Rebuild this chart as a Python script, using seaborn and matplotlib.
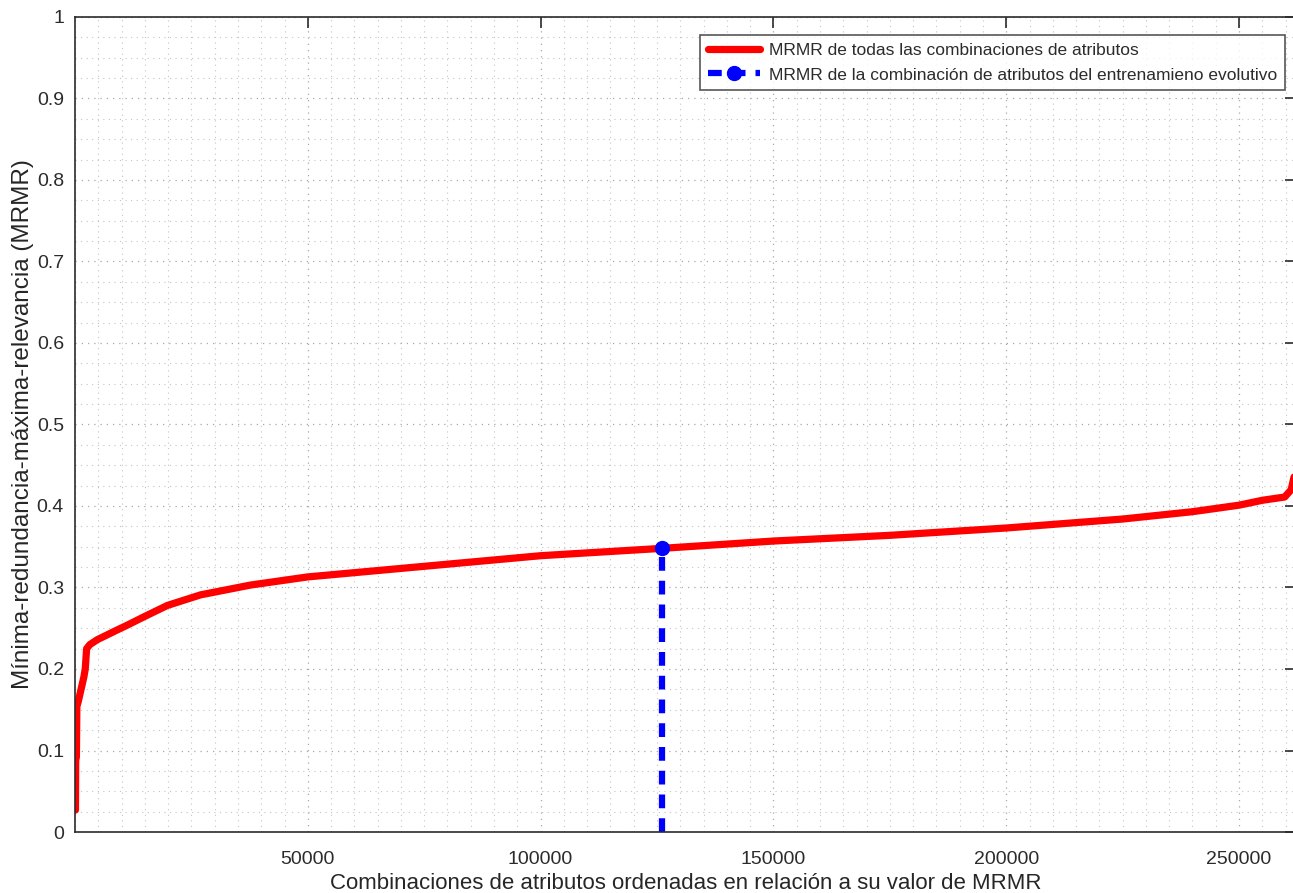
import matplotlib
matplotlib.use("Agg")
import matplotlib.pyplot as plt
import numpy as np
import pandas as pd
import seaborn as sns
from matplotlib.ticker import MultipleLocator

# Curva MRMR de todas las combinaciones
combinaciones_x = [1, 100, 150, 300, 400, 700, 1900, 2200, 2500, 3200, 4800,
                   9100, 11300, 14800, 19850, 27000, 37700, 50000, 75000,
                   100000, 126000, 150000, 175000, 200000, 225000, 240000,
                   250000, 255000, 259800, 261200, 261900, 262143]
mrmr_y = [0.027, 0.027, 0.088, 0.092, 0.154, 0.160, 0.190, 0.200, 0.225,
          0.230, 0.236, 0.248, 0.254, 0.264, 0.278, 0.291, 0.303, 0.313,
          0.326, 0.339, 0.348, 0.357, 0.364, 0.373, 0.384, 0.393, 0.401,
          0.407, 0.411, 0.420, 0.438, 0.442]

# Combinación del entrenamiento evolutivo
evolutivo_x = [126000, 126000]
evolutivo_y = [0.0, 0.348]

etiquetas = ["MRMR de todas las combinaciones de atributos",
             "MRMR de la combinación de atributos del entrenamieno evolutivo"]

sns.set_theme(style="white")
plt.rcParams["font.family"] = ["Liberation Sans", "DejaVu Sans"]
plt.rcParams["text.color"] = "#2b2b2b"
plt.rcParams["xtick.color"] = "#2b2b2b"
plt.rcParams["ytick.color"] = "#2b2b2b"

fig = plt.figure(figsize=(12.93, 8.93), dpi=100)
ax = fig.add_axes([0.058, 0.0683, 0.944, 0.9127])

df = pd.DataFrame({"x": combinaciones_x, "y": mrmr_y})
sns.lineplot(data=df, x="x", y="y", color="#ff0000", linewidth=5.2,
             estimator=None, sort=False, ax=ax, label=etiquetas[0])
ax.plot(evolutivo_x, evolutivo_y, color="#0000ff", linestyle=(0, (2.2, 1.6)),
        linewidth=4.5, marker="o", markersize=10, markevery=[1],
        label=etiquetas[1])

ax.set_xlim(0, 262143)
ax.set_ylim(0, 1)
ax.set_xticks([50000, 100000, 150000, 200000, 250000])
ax.set_xticklabels(["50000", "100000", "150000", "200000", "250000"])
ax.set_yticks(np.arange(0, 1.01, 0.1))
ax.set_yticklabels(["0", "0.1", "0.2", "0.3", "0.4", "0.5", "0.6", "0.7",
                    "0.8", "0.9", "1"])
ax.xaxis.set_minor_locator(MultipleLocator(5000))
ax.yaxis.set_minor_locator(MultipleLocator(0.025))
ax.tick_params(which="major", direction="in", length=8, width=1.2,
               top=True, right=True, labelsize=14)
ax.tick_params(axis="x", pad=14)
ax.tick_params(axis="y", pad=8)
ax.tick_params(which="minor", length=0)
ax.grid(which="major", linestyle=(0, (1, 4)), color="#a8a8a8", linewidth=0.9)
ax.grid(which="minor", linestyle=(0, (1, 4)), color="#c4c4c4", linewidth=0.8)
for s in ax.spines.values():
    s.set_color("#2b2b2b")
    s.set_linewidth(1.2)

ax.set_xlabel("Combinaciones de atributos ordenadas en relación a su valor de MRMR",
              fontsize=16, labelpad=3)
ax.set_ylabel("Mínima-redundancia-máxima-relevancia (MRMR)", fontsize=17.5,
              labelpad=2)

leg = ax.legend(loc="upper right", bbox_to_anchor=(0.991, 0.978), fontsize=12.5,
                frameon=True, fancybox=False, handlelength=3.0,
                handletextpad=0.5, borderpad=0.45, labelspacing=0.55,
                borderaxespad=0)
leg.get_frame().set_edgecolor("#2b2b2b")
leg.get_frame().set_linewidth(1.2)

fig.savefig("out.png", dpi=100)
